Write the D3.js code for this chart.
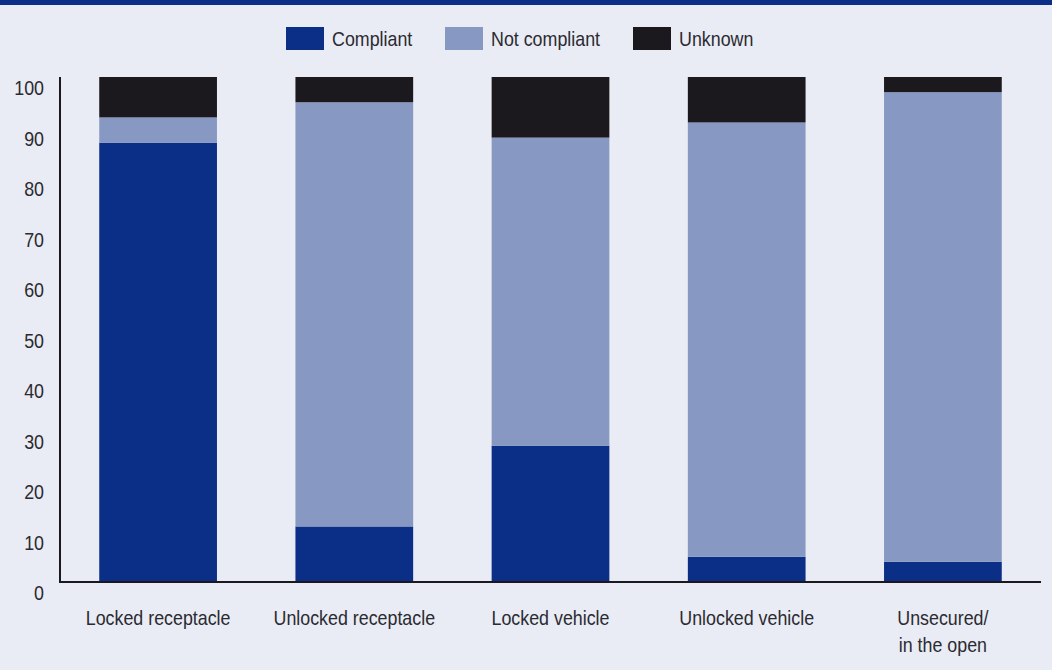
<!DOCTYPE html>
<html>
<head>
<meta charset="utf-8">
<script src="https://cdn.jsdelivr.net/npm/d3@7"></script>
<style>
  body { margin: 0; background: #e9ecf4; }
  svg { display: block; }
  text { font-family: "Liberation Sans Narrow", "Liberation Sans", Arial, sans-serif; fill: #2b2a30; font-size: 21px; }
</style>
</head>
<body>
<svg id="chart"></svg>
<script>
const categories = ["Locked receptacle", "Unlocked receptacle", "Locked vehicle", "Unlocked vehicle", "Unsecured/\nin the open"];
const compliant = [87, 11, 27, 5, 4];
const notCompliant = [5, 84, 61, 86, 93];
const unknown = [8, 5, 12, 9, 3];
const seriesNames = ["Compliant", "Not compliant", "Unknown"];
const yTicks = [0, 10, 20, 30, 40, 50, 60, 70, 80, 90, 100];

const W = 1052, H = 670;
const squeeze = 0.85; // condensed look, no narrow font installed
const svg = d3.select("#chart").attr("width", W).attr("height", H);

svg.append("rect").attr("width", W).attr("height", H).attr("fill", "#e9ecf4");
svg.append("rect").attr("width", W).attr("height", 5).attr("fill", "#0b2e86");

const colors = d3.scaleOrdinal()
    .domain(seriesNames)
    .range(["#0b2f87", "#8798c3", "#1b191e"]);

const rows = categories.map((c, i) => ({
    cat: c,
    "Compliant": compliant[i],
    "Not compliant": notCompliant[i],
    "Unknown": unknown[i]
}));

const x = d3.scaleBand()
    .domain(categories)
    .range([60, 1041])
    .paddingInner(0.4)
    .paddingOuter(0.2);

const y = d3.scaleLinear().domain([0, 100]).range([582, 77]);

const stack = d3.stack().keys(seriesNames)(rows);

svg.append("g")
  .selectAll("g")
  .data(stack)
  .join("g")
    .attr("fill", d => colors(d.key))
  .selectAll("rect")
  .data(d => d)
  .join("rect")
    .attr("x", d => x(d.data.cat))
    .attr("width", x.bandwidth())
    .attr("y", d => y(d[1]))
    .attr("height", d => y(d[0]) - y(d[1]));

// axis lines
svg.append("line")
    .attr("x1", 60).attr("x2", 60)
    .attr("y1", y(100)).attr("y2", y(0) + 1)
    .attr("stroke", "#1b191e").attr("stroke-width", 2);
svg.append("line")
    .attr("x1", 59).attr("x2", 1041)
    .attr("y1", y(0)).attr("y2", y(0))
    .attr("stroke", "#1b191e").attr("stroke-width", 2);

// y tick labels (sit slightly below their value)
svg.append("g")
  .selectAll("text")
  .data(yTicks)
  .join("text")
    .attr("transform", d => `translate(44,${y(d) + 18}) scale(${squeeze},1)`)
    .attr("text-anchor", "end")
    .text(d => d);

// x labels
const xl = svg.append("g")
  .selectAll("text")
  .data(categories)
  .join("text")
    .attr("transform", d => `translate(${x(d) + x.bandwidth() / 2},625) scale(${squeeze},1)`)
    .attr("text-anchor", "middle");
xl.selectAll("tspan")
  .data(d => d.split("\n"))
  .join("tspan")
    .attr("x", 0)
    .attr("dy", (d, i) => i === 0 ? 0 : 27)
    .text(d => d);

// legend
const legendX = [286, 445, 633];
const legend = svg.append("g")
  .selectAll("g")
  .data(seriesNames)
  .join("g")
    .attr("transform", (d, i) => `translate(${legendX[i]},27)`);
legend.append("rect")
    .attr("width", 38).attr("height", 23)
    .attr("fill", d => colors(d));
legend.append("text")
    .attr("transform", `translate(46,19) scale(${squeeze},1)`)
    .text(d => d);
</script>
</body>
</html>
